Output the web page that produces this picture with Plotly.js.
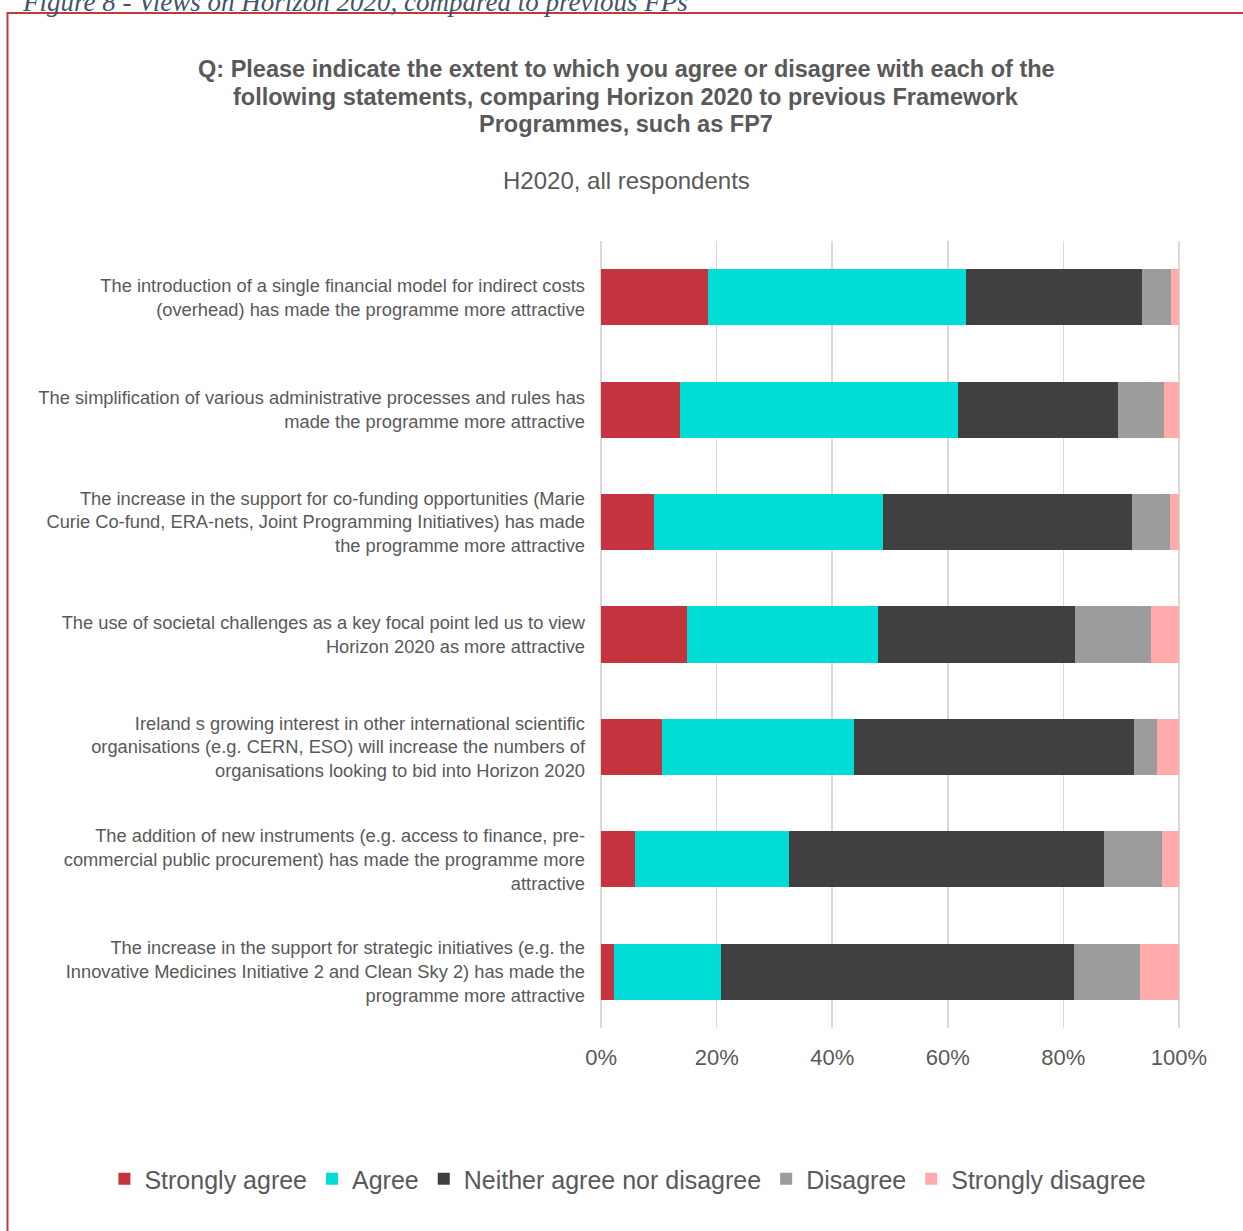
<!DOCTYPE html>
<html>
<head>
<meta charset="utf-8">
<script src="https://cdn.plot.ly/plotly-3.0.1.min.js"></script>
<style>
  html, body { margin: 0; padding: 0; background: #ffffff; }
  #chart { width: 1243px; height: 1231px; }
</style>
</head>
<body>
<div id="chart"></div>
<script>
const categories = [
  "The introduction of a single financial model for indirect costs<br>(overhead) has made the programme more attractive",
  "The simplification of various administrative processes and rules has<br>made the programme more attractive",
  "The increase in the support for co-funding opportunities (Marie<br>Curie Co-fund, ERA-nets, Joint Programming Initiatives) has made<br>the programme more attractive",
  "The use of societal challenges as a key focal point led us to view<br>Horizon 2020 as more attractive",
  "Ireland s growing interest in other international scientific<br>organisations (e.g. CERN, ESO) will increase the numbers of<br>organisations looking to bid into Horizon 2020",
  "The addition of new instruments (e.g. access to finance, pre-<br>commercial public procurement) has made the programme more<br>attractive",
  "The increase in the support for strategic initiatives (e.g. the<br>Innovative Medicines Initiative 2 and Clean Sky 2) has made the<br>programme more attractive"
];

const stronglyAgree    = [18.5, 13.6,  9.1, 14.8, 10.5,  5.8,  2.3];
const agree            = [44.7, 48.1, 39.7, 33.2, 33.3, 26.8, 18.4];
const neither          = [30.4, 27.7, 43.1, 34.0, 48.4, 54.4, 61.2];
const disagree         = [ 5.1,  8.1,  6.5, 13.1,  4.0, 10.0, 11.3];
const stronglyDisagree = [ 1.3,  2.5,  1.6,  4.9,  3.8,  3.0,  6.8];

const seriesNames = ["Strongly agree", "Agree", "Neither agree nor disagree", "Disagree", "Strongly disagree"];
const seriesValues = [stronglyAgree, agree, neither, disagree, stronglyDisagree];
const seriesColors = ["#c4343e", "#00dcd6", "#404040", "#9c9c9c", "#ffaaab"];

const xTickVals = [0, 20, 40, 60, 80, 100];
const xTickText = ["0%", "20%", "40%", "60%", "80%", "100%"];

const titleLines = [
  "Q: Please indicate the extent to which you agree or disagree with each of the",
  "following statements, comparing Horizon 2020 to previous Framework",
  "Programmes, such as FP7"
];

const FONT = "Liberation Sans, Arial, sans-serif";

const traces = seriesNames.map((name, i) => ({
  type: "bar",
  orientation: "h",
  name: name,
  y: categories,
  x: seriesValues[i],
  marker: { color: seriesColors[i], line: { width: 0 } },
  hoverinfo: "x+name"
}));

const W = 1243, H = 1231;
// axis 0% at x=601, 100% at x=1179; range padded slightly so edge gridlines draw
const PAD = 0.2;
const X0 = 601, X100 = 1179;
const unit = (X100 - X0) / 100;
const L = X0 - PAD * unit;
const Rpx = X100 + PAD * unit;
const T = 241, Bpx = 1028;
const pw = Rpx - L, ph = Bpx - T;
const px = v => (v - L) / pw;
const py = v => (Bpx - v) / ph;

const annotations = titleLines.map((t, i) => ({
  text: "<b>" + t + "</b>",
  xref: "paper", yref: "paper",
  x: px(626), y: py([69, 96.5, 124][i]),
  xanchor: "center", yanchor: "middle",
  showarrow: false,
  font: { size: 23.5, color: "#595959", family: FONT }
}));
annotations.push({
  text: "H2020, all respondents",
  xref: "paper", yref: "paper",
  x: px(626), y: py(180),
  xanchor: "center", yanchor: "middle",
  showarrow: false,
  font: { size: 24, color: "#595959", family: FONT }
});
annotations.push({
  text: "Figure 8 - Views on Horizon 2020, compared to previous FPs",
  xref: "paper", yref: "paper",
  x: px(21), y: py(2),
  xanchor: "left", yanchor: "middle",
  showarrow: false,
  borderpad: 0,
  font: { size: 27, color: "#44546a", family: "Liberation Serif, DejaVu Serif, serif", style: "italic" }
});

const layout = {
  width: W,
  height: H,
  margin: { l: L, r: W - Rpx, t: T, b: H - Bpx, autoexpand: false },
  paper_bgcolor: "#ffffff",
  plot_bgcolor: "#ffffff",
  barmode: "stack",
  bargap: 0.5,
  font: { family: FONT, color: "#595959" },
  showlegend: true,
  legend: {
    orientation: "h",
    xref: "paper",
    yref: "paper",
    x: px(104),
    xanchor: "left",
    y: py(1179),
    yanchor: "middle",
    bgcolor: "rgba(0,0,0,0)",
    font: { size: 25, color: "#595959", family: FONT },
    traceorder: "normal",
    itemwidth: 30
  },
  xaxis: {
    range: [-PAD, 100 + PAD],
    tickvals: xTickVals,
    ticktext: xTickText,
    showgrid: true,
    gridcolor: "#d9d9d9",
    gridwidth: 1.5,
    zeroline: false,
    showline: false,
    ticks: "",
    ticklabelstandoff: 14,
    tickfont: { size: 22, color: "#595959", family: FONT },
    fixedrange: true
  },
  yaxis: {
    autorange: "reversed",
    showgrid: false,
    zeroline: false,
    showline: false,
    ticks: "",
    ticklabelstandoff: 14,
    tickfont: { size: 18.3, color: "#595959", family: FONT },
    fixedrange: true
  },
  annotations: annotations,
  shapes: [
    {
      type: "rect",
      xref: "paper", yref: "paper",
      x0: px(7), x1: px(1260),
      y0: py(1260), y1: py(13),
      line: { color: "#c0393b", width: 2 },
      fillcolor: "rgba(0,0,0,0)",
      layer: "below"
    }
  ]
};

Plotly.newPlot("chart", traces, layout, { displayModeBar: false, staticPlot: true });
</script>
</body>
</html>
